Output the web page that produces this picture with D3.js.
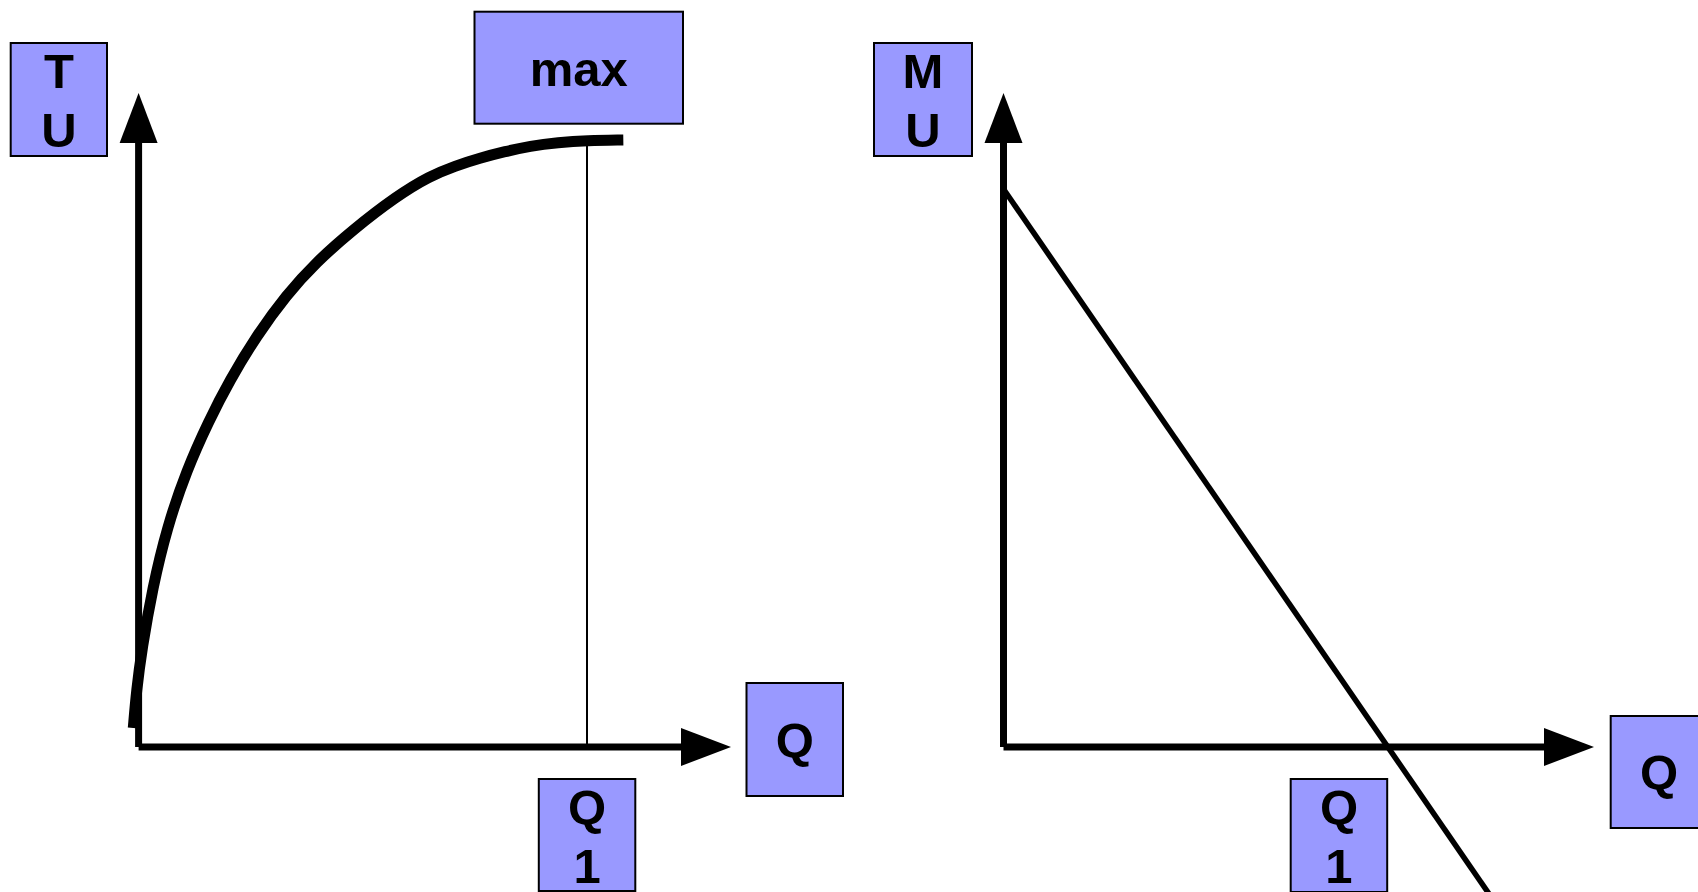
<!DOCTYPE html>
<html>
<head>
<meta charset="utf-8">
<script src="https://cdn.jsdelivr.net/npm/d3@7"></script>
<style>
  html, body { margin: 0; padding: 0; background: #fff; overflow: hidden; }
  svg { display: block; }
</style>
</head>
<body>
<svg id="chart" width="1698" height="892"></svg>
<script>
// ---- Data ----
// Total utility curve: quantity vs total utility (Q1 = 8, max TU = 100)
const tuQ      = [-0.095, -0.037, 0.057, 0.248, 0.507, 0.855, 1.247, 1.622, 2.102, 2.634, 3.16, 3.818, 4.605, 5.199, 5.645, 6.091, 6.537, 6.983, 7.482, 8.0, 8.648];
const tuValues = [3.13, 9.39, 16.06, 26.19, 36.19, 45.58, 53.64, 60.35, 67.71, 74.46, 79.8, 85.17, 90.77, 94.07, 95.72, 97.03, 98.1, 99.01, 99.59, 99.92, 100];
const tuQ1 = 8;
const tuMax = 100;

// Marginal utility line: quantity vs marginal utility (crosses zero at Q1 = 8)
const muQ      = [0, 10.1];
const muValues = [100, -26.3];
const muQ1 = 8;

// Labels
const tuAxisLabel = ["T", "U"];
const muAxisLabel = ["M", "U"];
const maxLabel = ["max"];
const q1Label = ["Q", "1"];
const qLabel = ["Q"];

// ---- Drawing ----
const svg = d3.select("#chart");
const FONT = "'Liberation Sans', Arial, Helvetica, sans-serif";
const BOX_FILL = "#9999ff";

// Left panel scales
const xL = d3.scaleLinear().domain([0, tuQ1]).range([138.6, 587]);
const yL = d3.scaleLinear().domain([0, tuMax]).range([747, 140]);
// Right panel scales
const xR = d3.scaleLinear().domain([0, muQ1]).range([1003.5, 1388]);
const yR = d3.scaleLinear().domain([0, 100]).range([747, 189]);

function axes(g, x0, y0, yTip, xTip) {
  const head = 50, half = 19, w = 7;
  g.append("line").attr("x1", x0).attr("y1", y0).attr("x2", x0).attr("y2", yTip + head - 1)
    .attr("stroke", "#000").attr("stroke-width", w);
  g.append("path").attr("d", `M${x0},${yTip} L${x0 - half},${yTip + head} L${x0 + half},${yTip + head} Z`)
    .attr("fill", "#000");
  g.append("line").attr("x1", x0).attr("y1", y0).attr("x2", xTip - head + 1).attr("y2", y0)
    .attr("stroke", "#000").attr("stroke-width", w);
  g.append("path").attr("d", `M${xTip},${y0} L${xTip - head},${y0 - half} L${xTip - head},${y0 + half} Z`)
    .attr("fill", "#000");
}

function labelBox(x, y, w, h, lines, firstBaseline, lineGap) {
  const g = svg.append("g");
  g.append("rect").attr("x", x).attr("y", y).attr("width", w).attr("height", h)
    .attr("fill", BOX_FILL).attr("stroke", "#000").attr("stroke-width", 2);
  g.selectAll("text").data(lines).join("text")
    .attr("x", x + w / 2)
    .attr("y", (d, i) => y + firstBaseline + i * lineGap)
    .attr("text-anchor", "middle")
    .attr("font-family", FONT)
    .attr("font-weight", "bold")
    .attr("font-size", 49)
    .attr("fill", "#000")
    .text(d => d);
}

// ---- Left panel ----
const left = svg.append("g");
left.append("line")
  .attr("x1", xL(tuQ1)).attr("x2", xL(tuQ1))
  .attr("y1", yL(tuMax)).attr("y2", yL(0))
  .attr("stroke", "#000").attr("stroke-width", 2);
axes(left, xL(0), yL(0), 93, 731);
const tuData = tuQ.map((q, i) => ({ q, v: tuValues[i] }));
left.append("path")
  .datum(tuData)
  .attr("d", d3.line().x(d => xL(d.q)).y(d => yL(d.v)).curve(d3.curveBasis))
  .attr("fill", "none").attr("stroke", "#000").attr("stroke-width", 11);

// ---- Right panel ----
const right = svg.append("g");
axes(right, xR(0), yR(0), 93, 1594);
const muData = muQ.map((q, i) => ({ q, v: muValues[i] }));
right.append("path")
  .datum(muData)
  .attr("d", d3.line().x(d => xR(d.q)).y(d => yR(d.v)))
  .attr("fill", "none").attr("stroke", "#000").attr("stroke-width", 5.5);

// ---- Label boxes ----
labelBox(10.7, 43, 96.3, 113, tuAxisLabel, 45, 59);
labelBox(474.5, 11.7, 208.5, 112, maxLabel, 74.5, 0);
labelBox(xL(tuQ1) - 48.2, 779, 96.5, 112, q1Label, 45, 59);
labelBox(746.5, 683, 96.5, 113, qLabel, 74, 0);
labelBox(874, 43, 98, 113, muAxisLabel, 45, 59);
labelBox(1290.7, 779, 96.5, 113, q1Label, 45, 59);
labelBox(1610.7, 716, 96.5, 112, qLabel, 73, 0);
</script>
</body>
</html>
